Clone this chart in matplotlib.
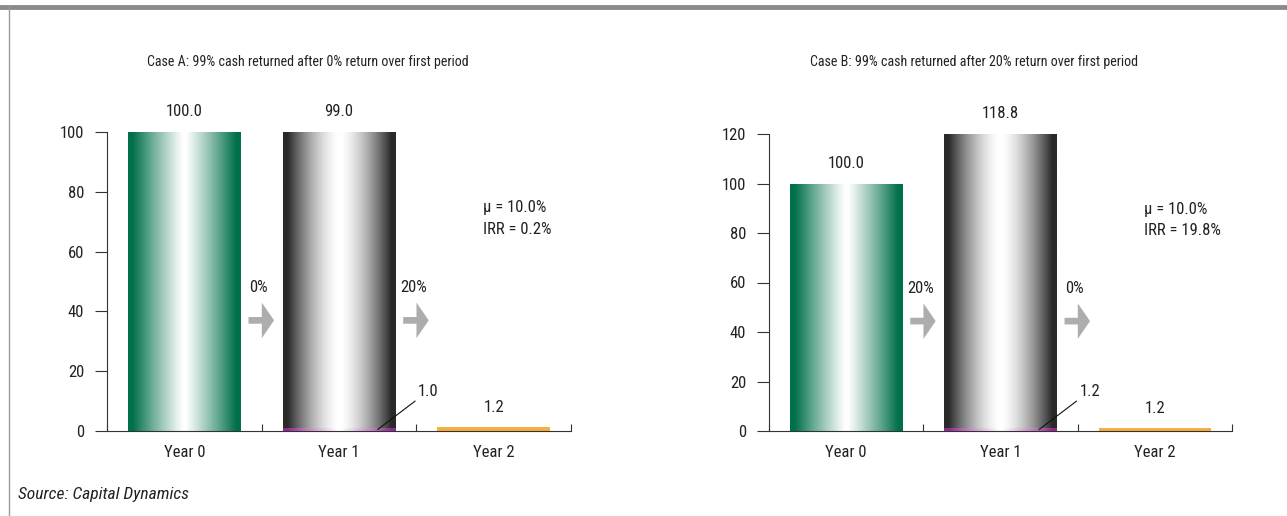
import numpy as np
import matplotlib
matplotlib.use("Agg")
import matplotlib.pyplot as plt
import matplotlib.transforms as mtransforms
from matplotlib.lines import Line2D
from matplotlib.colors import to_rgb

plt.rcParams['font.family'] = ['Roboto Condensed', 'Fira Sans Condensed', 'DejaVu Sans']
plt.rcParams['text.color'] = '#222222'

# --- DATA ---
years = ["Year 0", "Year 1", "Year 2"]

title_a = "Case A: 99% cash returned after 0% return over first period"
invested_a = 100.0
returned_a = 99.0
remaining_a = 1.0
final_a = 1.2
steps_a = ["0%", "20%"]
stats_a = "\u03bc = 10.0%\nIRR = 0.2%"
yticks_a = [0, 20, 40, 60, 80, 100]

title_b = "Case B: 99% cash returned after 20% return over first period"
invested_b = 100.0
returned_b = 118.8
remaining_b = 1.2
final_b = 1.2
steps_b = ["20%", "0%"]
stats_b = "\u03bc = 10.0%\nIRR = 19.8%"
yticks_b = [0, 20, 40, 60, 80, 100, 120]

GREEN = "#00704a"
GRAY = "#2a2a2a"
PURPLE = "#8e2c8e"
ORANGE = "#f5b041"
ARROW = "#adadad"
AXCOL = "#333333"


def gradient_fill(ax, patch, color, power):
    # horizontal "cylinder" shading: dark at edges, white in the middle
    x0, y0 = patch.get_x(), patch.get_y()
    w, h = patch.get_width(), patch.get_height()
    n = 256
    t = np.abs(np.linspace(-1, 1, n))
    f = np.clip((t - 0.02) / 0.9, 0, 1) ** power
    c = np.array(to_rgb(color))
    rgb = 1 - f[:, None] * (1 - c[None, :])
    img = rgb[None, :, :]
    im = ax.imshow(img, extent=[x0, x0 + w, y0, y0 + h], aspect='auto',
                   origin='lower', zorder=2, interpolation='bilinear')
    im.set_clip_path(patch)
    patch.set_facecolor('none')
    patch.set_edgecolor('none')


def draw_case(ax, invested, returned, remaining, final, steps, stats, yticks, ymax):
    x = np.arange(len(years))
    w = 0.73
    b0 = ax.bar(x[0], invested, w, zorder=2)[0]
    gradient_fill(ax, b0, GREEN, 1.1)
    b1p = ax.bar(x[1], remaining, w, zorder=2)[0]
    gradient_fill(ax, b1p, PURPLE, 1.1)
    b1 = ax.bar(x[1], returned, w, bottom=remaining, zorder=2)[0]
    gradient_fill(ax, b1, GRAY, 1.5)
    ax.bar(x[2], final, w, color=ORANGE, zorder=2)

    ax.set_xlim(-0.5, 2.5)
    ax.set_ylim(0, ymax)
    ax.set_yticks(yticks)
    ax.tick_params(axis='y', direction='out', length=8.5, width=0.8, color=AXCOL,
                   labelsize=12, pad=8, labelcolor='#222222')
    ax.set_xticks([-0.5, 0.5, 1.5, 2.5])
    ax.set_xticklabels([])
    ax.tick_params(axis='x', which='major', direction='in', length=5, width=0.8, color=AXCOL)
    ax.set_xticks(x, minor=True)
    ax.set_xticklabels(years, minor=True)
    ax.tick_params(axis='x', which='minor', length=0, labelsize=12, pad=10, labelcolor='#222222')
    for s in ['top', 'right']:
        ax.spines[s].set_visible(False)
    for s in ['left', 'bottom']:
        ax.spines[s].set_color(AXCOL)
        ax.spines[s].set_linewidth(0.8)
    ax.spines['bottom'].set_zorder(3)

    # value labels
    ax.annotate(f"{invested:.1f}", (x[0], invested), xytext=(0, 9), textcoords='offset points',
                ha='center', va='bottom', fontsize=12, annotation_clip=False)
    ax.annotate(f"{returned:.1f}", (x[1], returned + remaining), xytext=(0, 9),
                textcoords='offset points', ha='center', va='bottom', fontsize=12,
                annotation_clip=False)
    ax.annotate(f"{final:.1f}", (x[2], final), xytext=(0, 9), textcoords='offset points',
                ha='center', va='bottom', fontsize=12, annotation_clip=False)
    ax.annotate(f"{remaining:.1f}", (x[1] + 0.25, remaining / 2), xytext=(29, 22),
                textcoords='offset points', ha='left', va='bottom', fontsize=12,
                arrowprops=dict(arrowstyle='-', color='#111111', lw=0.8,
                                shrinkA=0, shrinkB=0, relpos=(0, 0)))

    # step arrows between years
    trans = mtransforms.blended_transform_factory(ax.transData, ax.transAxes)
    for i, lab in enumerate(steps):
        xb = i + 0.5
        ax.annotate('', xy=(xb + 0.08, 0.37), xytext=(xb - 0.085, 0.37),
                    xycoords=trans, textcoords=trans,
                    arrowprops=dict(arrowstyle='simple,head_length=0.55,head_width=1.6,tail_width=0.3',
                                    color=ARROW, lw=0, shrinkA=0, shrinkB=0, mutation_scale=16))
        ax.text(xb - 0.02, 0.48, lab, transform=trans, ha='center', va='center', fontsize=12)

    ax.text(0.81, 0.772, stats, transform=ax.transAxes, ha='left', va='top',
            fontsize=12, linespacing=1.55)


fig = plt.figure(figsize=(12.87, 5.16), dpi=100)
W, H = 1287, 516
ax_a = fig.add_axes([107 / W, 1 - 431 / H, 464 / W, (431 - 132) / H])
ax_b = fig.add_axes([769 / W, 1 - 431 / H, 463 / W, (431 - 134) / H])

draw_case(ax_a, invested_a, returned_a, remaining_a, final_a, steps_a, stats_a, yticks_a, 100)
draw_case(ax_b, invested_b, returned_b, remaining_b, final_b, steps_b, stats_b, yticks_b, 120)

fig.text(308 / W, 1 - 62 / H, title_a, ha='center', va='center', fontsize=10.1)
fig.text(974 / W, 1 - 62 / H, title_b, ha='center', va='center', fontsize=10.1)

# frame decoration
fig.add_artist(Line2D([0, 1], [1 - 6.5 / H, 1 - 6.5 / H], transform=fig.transFigure,
                      color='#8a8a8a', lw=3.5))
fig.add_artist(Line2D([8.5 / W, 8.5 / W], [0, 1 - 6.5 / H], transform=fig.transFigure,
                      color='#9a9a9a', lw=1))

fig.text(18 / W, 1 - 495 / H, "Source: Capital Dynamics", ha='left', va='center',
         fontsize=12.6, style='italic')

fig.savefig("out.png", dpi=100)
